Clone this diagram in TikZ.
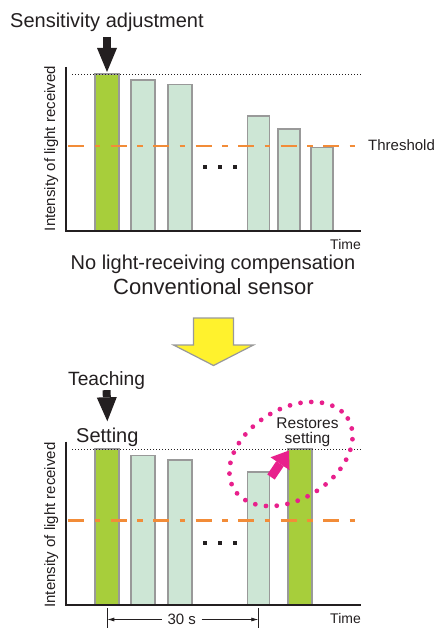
\documentclass[tikz,border=0pt]{standalone}
\usepackage{fontspec}
\setmainfont{Liberation Sans}
\usetikzlibrary{arrows.meta}
\newcommand{\ptsz}[2]{\fontsize{#1}{#2}\selectfont}
\definecolor{textink}{HTML}{231F20}
\definecolor{barrim}{HTML}{999999}
\definecolor{barfull}{HTML}{A7CE3B}
\definecolor{barpale}{HTML}{CDE6D5}
\definecolor{limitline}{HTML}{F28C38}
\definecolor{restorepink}{HTML}{E8208C}
\definecolor{stepyellow}{HTML}{FFF22D}

\begin{document}
\begin{tikzpicture}[
  x=1pt,
  y=-1pt,
  every node/.style={inner sep=0pt, textink},
  headtext/.style={font=\ptsz{20}{24}},
  bigtext/.style={font=\ptsz{22}{26}},
  midtext/.style={font=\ptsz{15}{14.5}},
  smalltext/.style={font=\ptsz{14}{17}},
  axis/.style={textink, line width=1.5pt},
  fullbox/.style={draw=barrim, fill=barfull, line width=1.3pt},
  palebox/.style={draw=barrim, fill=barpale, line width=1.3pt},
  threshold/.style={limitline, line width=2.8pt,
               dash pattern=on 16pt off 10.5pt on 5.5pt off 10.5pt},
  peakline/.style={textink, line width=0.8pt, dash pattern=on 0.8pt off 2.2pt},
  blockarrow/.style={textink, line width=8pt,
               -{Triangle[length=24pt, width=20pt, line width=0pt]}},
  pinkarrow/.style={restorepink, line width=9pt,
               -{Triangle[length=16pt, width=23pt, line width=0pt]}},
  restoreloop/.style={restorepink, line width=4.8pt, line cap=round,
               dash pattern=on 0pt off 10.8pt},
  dimline/.style={textink, line width=0.7pt},
  dimarrow/.style={textink, line width=0.7pt, -{Latex[length=7pt, width=4pt]}},
  turnarrow/.style={draw=barrim, fill=stepyellow, line width=1.2pt}
]
  \useasboundingbox (0,0) rectangle (434,628);

  % ---- conventional sensor, top chart -----------------------------------
  \foreach \xl/\xr/\yt in {131/155/80, 168/192/84.5, 247.5/269.5/116,
                           278/300/129, 311/333/147.5}
    \draw[palebox] (\xl,231) rectangle (\xr,\yt);
  \draw[fullbox] (95,231) rectangle (119,74);

  \draw[threshold] (68,146) -- (356,146);
  \draw[peakline] (72,74.5) -- (362,74.5);
  \draw[axis] (66,67) -- (66,231) -- (361,231);

  \foreach \xd in {205, 220, 235}
    \fill[textink] (\xd-2,164.7) rectangle (\xd+2,168.7);

  \node[headtext, anchor=base west] (adjtitle) at (10,28) {Sensitivity adjustment};
  \coordinate (adjtail) at (107,37);
  \coordinate (adjtip) at (107,72);
  \draw[blockarrow] (adjtail) -- (adjtip);

  \node[midtext, anchor=base west] (thresh) at (368,151) {Threshold};
  \node[midtext, rotate=90, anchor=base] (ylabtop) at (55,148.5)
    {Intensity of light received};
  \node[smalltext, anchor=base east] (timetop) at (361,249) {Time};
  \node[headtext, anchor=base] (nocomp) at (213,269)
    {No light-receiving compensation};
  \node[bigtext, anchor=base] (conv) at (213.5,294.5) {Conventional sensor};

  % ---- big arrow between the charts -------------------------------------
  \filldraw[turnarrow] (193.5,318) -- (233.5,318) -- (233.5,345) -- (253.5,345)
    -- (213.5,365.5) -- (173.5,345) -- (193.5,345) -- cycle;

  % ---- with compensation, bottom chart ----------------------------------
  \foreach \xl/\xr/\yt in {131/155/455.7, 168/192/460, 247.5/269.5/472}
    \draw[palebox] (\xl,605) rectangle (\xr,\yt);
  \draw[fullbox] (95,605) rectangle (119,449);
  \draw[fullbox] (288,605) rectangle (312,449);

  \draw[threshold] (68,520.3) -- (356,520.3);
  \draw[peakline] (72,449) -- (362,449);
  \draw[axis] (66,441.7) -- (66,605) -- (361,605);

  \foreach \xd in {205, 220, 235}
    \fill[textink] (\xd-2,540.7) rectangle (\xd+2,544.7);

  \node[headtext, font=\ptsz{19.2}{23}, anchor=base west] (teach) at (68,385)
    {Teaching};
  \node[headtext, anchor=base west] (setting) at (76,442) {Setting};
  \draw[blockarrow] ([yshift=-1pt]teach.south) -- ([yshift=6pt]setting.north);

  \node[midtext, font=\ptsz{15.5}{14.5}, align=center] (restores) at (307.5,432.5)
    {Restores\\setting};
  \draw[restoreloop, rotate around={32:(291,454)}] (291,454)
    ellipse [x radius=67, y radius=45];
  \coordinate (pinktail) at (271,477);
  \coordinate (pinktip) at (289,450.5);
  \draw[pinkarrow] (pinktail) -- (pinktip);

  \node[midtext, rotate=90, anchor=base] (ylabbot) at (55,525)
    {Intensity of light received};
  \node[smalltext, anchor=base east] (timebot) at (361,623.3) {Time};

  % 30 s between the two teaching points
  \draw[dimline] (107.3,608) -- (107.3,632);
  \draw[dimline] (258.3,608) -- (258.3,632);
  \node[midtext, inner xsep=5.5pt] (span) at (181.7,619.5) {30 s};
  \coordinate (spanleft) at (107.3,619.5);
  \coordinate (spanright) at (258.3,619.5);
  \draw[dimarrow] (span.west) -- (spanleft);
  \draw[dimarrow] (span.east) -- (spanright);
\end{tikzpicture}
\end{document}
